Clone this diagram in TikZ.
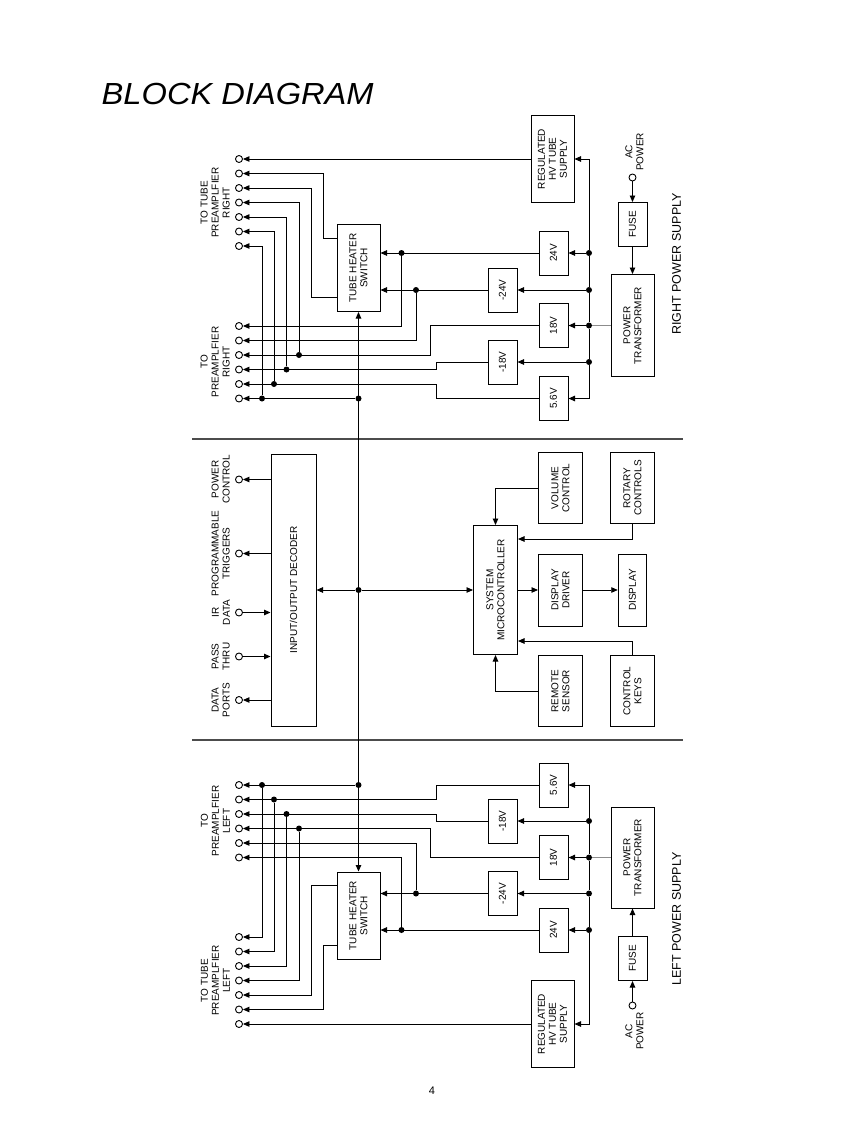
\documentclass[tikz,border=0pt]{standalone}
\usepackage{fontspec}
\setmainfont{Liberation Sans}
\usepackage{graphicx}
\usetikzlibrary{arrows.meta,calc}

\begin{document}
\begin{tikzpicture}[x=1pt, y=-1pt,
  every node/.style={font=\fontsize{10}{11}\selectfont},
  blk/.style={draw, line width=1pt, inner sep=0pt},
  reg/.style={blk, minimum width=29pt, minimum height=44pt},
  sw/.style={blk, minimum width=43pt, minimum height=87pt},
  ctl/.style={blk, minimum width=44pt, minimum height=71pt},
  vtxt/.style={rotate=90, align=center, inner sep=0pt},
  tlbl/.style={rotate=90, align=center, anchor=south, inner sep=0.5pt},
  term/.style={circle, draw, line width=0.9pt, inner sep=0pt, minimum size=7pt},
  dot/.style={circle, fill, inner sep=0pt, minimum size=6pt},
  wire/.style={line width=0.9pt},
  arr/.style={wire, -{Triangle[length=6.5pt,width=5.5pt]}},
  sep/.style={line width=1.2pt, color=black!70},
]
\fill[white] (0,0) rectangle (866,1122);
\useasboundingbox (0,0) rectangle (866,1122);

\node[anchor=base west, inner sep=0pt, font=\fontsize{30.5}{36}\selectfont\itshape]
  (title) at (101.5,104.3) {\scalebox{1.07}[1]{BLOCK DIAGRAM}};

% ---- right power supply (top) ----
\node[sw, label={[vtxt]center:REGULATED\\HV TUBE\\SUPPLY}] (hvR) at (552.5,159) {};
\node[reg, label={[vtxt]center:24V}]  (v24R)  at (553.5,253) {};
\node[reg, label={[vtxt]center:-24V}] (vm24R) at (502.5,290) {};
\node[reg, label={[vtxt]center:18V}]  (v18R)  at (553.5,325.5) {};
\node[reg, label={[vtxt]center:-18V}] (vm18R) at (502.5,362) {};
\node[reg, label={[vtxt]center:5.6V}] (v56R)  at (553.5,398.5) {};
\node[blk, minimum width=43pt, minimum height=102pt,
      label={[vtxt]center:POWER\\TRANSFORMER}] (trR) at (632.5,325.5) {};
\node[reg, label={[vtxt]center:FUSE}] (fuseR) at (632.5,224.5) {};
\node[term] (acR) at (632.5,177.5) {};
\node[vtxt, anchor=west] (acRlbl) at (634.5,171) {AC\\POWER};
\node[rotate=90, font=\fontsize{12.5}{14}\selectfont] (rpsLbl) at (676.5,264) {RIGHT POWER SUPPLY};
\node[sw, label={[vtxt]center:TUBE HEATER\\SWITCH}] (swR) at (358.5,268) {};

\node[term] (tR1) at (239,159) {};   \node[term] (tR2) at (239,173.5) {};
\node[term] (tR3) at (239,188) {};   \node[term] (tR4) at (239,202.5) {};
\node[term] (tR5) at (239,217) {};   \node[term] (tR6) at (239,231.5) {};
\node[term] (tR7) at (239,246) {};
\node[term] (pR1) at (239,326) {};   \node[term] (pR2) at (239,340.5) {};
\node[term] (pR3) at (239,355) {};   \node[term] (pR4) at (239,369.5) {};
\node[term] (pR5) at (239,384) {};   \node[term] (pR6) at (239,398.5) {};
\node[tlbl] (tRlbl) at (230.5,202.5) {TO TUBE\\PREAMPLFIER\\RIGHT};
\node[tlbl] (pRlbl) at (230.5,362) {TO\\PREAMPLFIER\\RIGHT};

\node[dot] (b24R) at (589,253) {};    \node[dot] (bm24R) at (589,290) {};
\node[dot] (b18R) at (589,325.5) {};  \node[dot] (bm18R) at (589,362) {};
\node[dot] (s24R) at (401.5,253) {};  \node[dot] (sm24R) at (416,290) {};
\node[dot] (dR4) at (299,355) {};     \node[dot] (dR5) at (286.5,369.5) {};
\node[dot] (dR6) at (274,384) {};     \node[dot] (dR7) at (262,398.5) {};
\node[dot] (cR) at (358.5,398.5) {};

% supply bus
\draw[wire] (b24R) -- (bm24R) -- (b18R) -- (bm18R);
\draw[arr] (b24R) |- (hvR.east);
\draw[arr] (bm18R) |- (v56R.east);
\draw[arr] (b24R) -- (v24R.east);
\draw[arr] (bm24R) -- (vm24R.east);
\draw[arr] (b18R) -- (v18R.east);
\draw[arr] (bm18R) -- (vm18R.east);
\draw[wire, black!45] (trR.west) -- (b18R);
\draw[arr] (acR) -- (fuseR.north);
\draw[arr] (fuseR.south) -- (trR.north);
% heater switch
\draw[arr] (v24R.west) -- (v24R.west -| swR.east);
\draw[arr] (vm24R.west) -- (vm24R.west -| swR.east);
% outputs
\draw[arr] (hvR.west) -- (tR1);
\draw[arr] ([yshift=-14.5pt]swR.north west) -- ++(-13,0) |- (tR2);
\draw[arr] ([yshift=14.5pt]swR.south west) -- ++(-25,0) |- (tR3);
\draw[arr] (dR4) |- (tR4);
\draw[arr] (dR5) |- (tR5);
\draw[arr] (dR6) |- (tR6);
\draw[arr] (dR7) |- (tR7);
\draw[arr] (s24R) |- (pR1);
\draw[arr] (sm24R) |- (pR2);
\draw[arr] (v18R.west) -- ++(-108.5,0) |- (pR3);
\draw[arr] (vm18R.west) -- ++(-51,0) |- (pR4);
\draw[arr] (v56R.west) -- ++(-102,0) |- (pR5);
\draw[arr] (cR) -- (pR6);

% ---- control section (middle) ----
\draw[sep] (192,439) -- (683,439);
\draw[sep] (192,740) -- (683,740);
\node[blk, minimum width=45pt, minimum height=272pt,
      label={[vtxt]center:INPUT/OUTPUT DECODER}] (iod) at (293.5,590) {};
\node[blk, minimum width=44pt, minimum height=129pt,
      label={[vtxt]center:SYSTEM\\MICROCONTROLLER}] (mcu) at (495.5,590) {};
\node[ctl, label={[vtxt]center:VOLUME\\CONTROL}] (vol) at (560.5,488) {};
\node[ctl, label={[vtxt]center:ROTARY\\CONTROLS}] (rot) at (632.5,488) {};
\node[ctl, minimum height=72pt, label={[vtxt]center:DISPLAY\\DRIVER}] (ddrv) at (560.5,590) {};
\node[blk, minimum width=28.5pt, minimum height=72pt,
      label={[vtxt]center:DISPLAY}] (disp) at (632.5,590) {};
\node[ctl, label={[vtxt]center:REMOTE\\SENSOR}] (rem) at (560.5,691) {};
\node[ctl, label={[vtxt]center:CONTROL\\KEYS}] (keys) at (632.5,691) {};
\node[dot] (cm) at (358.5,590) {};

\node[term] (pwrc) at (239,479.5) {};
\node[term] (trig) at (239,553.5) {};
\node[term] (irin) at (239,612.5) {};
\node[term] (pass) at (239,656.5) {};
\node[term] (dport) at (239,700) {};
\node[tlbl] (pwrcLbl) at (230.5,479.5) {POWER\\CONTROL};
\node[tlbl] (trigLbl) at (230.5,553.5) {PROGRAMMABLE\\TRIGGERS};
\node[tlbl] (irinLbl) at (230.5,612.5) {IR\\DATA};
\node[tlbl] (passLbl) at (230.5,656.5) {PASS\\THRU};
\node[tlbl] (dportLbl) at (230.5,700) {DATA\\PORTS};

\draw[arr] (iod.west |- pwrc) -- (pwrc);
\draw[arr] (iod.west |- trig) -- (trig);
\draw[arr] (irin) -- (iod.west |- irin);
\draw[arr] (pass) -- (iod.west |- pass);
\draw[arr] (iod.west |- dport) -- (dport);
\draw[arr] (cm) -- (iod.east);
\draw[arr] (cm) -- (mcu.west);
\draw[arr] (cm) -- (swR.south);
\draw[arr] (vol.west) -| (mcu.north);
\draw[arr] (rot.south) |- ([yshift=-14pt]mcu.north east);
\draw[arr] (keys.north) |- ([yshift=14pt]mcu.south east);
\draw[arr] (rem.west) -| (mcu.south);
\draw[arr] (mcu.east) -- (ddrv.west);
\draw[arr] (ddrv.east) -- (disp.west);

% ---- left power supply (bottom) ----
\node[sw, label={[vtxt]center:TUBE HEATER\\SWITCH}] (swL) at (358.5,915.5) {};
\node[reg, label={[vtxt]center:5.6V}] (v56L)  at (553.5,785) {};
\node[reg, label={[vtxt]center:-18V}] (vm18L) at (502.5,821) {};
\node[reg, label={[vtxt]center:18V}]  (v18L)  at (553.5,857.5) {};
\node[reg, label={[vtxt]center:-24V}] (vm24L) at (502.5,893.5) {};
\node[reg, label={[vtxt]center:24V}]  (v24L)  at (553.5,930) {};
\node[sw, label={[vtxt]center:REGULATED\\HV TUBE\\SUPPLY}] (hvL) at (552.5,1024) {};
\node[blk, minimum width=43pt, minimum height=101pt,
      label={[vtxt]center:POWER\\TRANSFORMER}] (trL) at (632.5,857.5) {};
\node[reg, label={[vtxt]center:FUSE}] (fuseL) at (632.5,958.5) {};
\node[term] (acL) at (632.5,1005.5) {};
\node[vtxt, anchor=east] (acLlbl) at (634.5,1012) {AC\\POWER};
\node[rotate=90, font=\fontsize{12.5}{14}\selectfont] (lpsLbl) at (676.5,919) {LEFT POWER SUPPLY};
\draw[arr] (cm) -- (swL.north);

\node[term] (pL1) at (239,785) {};   \node[term] (pL2) at (239,799.5) {};
\node[term] (pL3) at (239,814) {};   \node[term] (pL4) at (239,828.5) {};
\node[term] (pL5) at (239,843) {};   \node[term] (pL6) at (239,857.5) {};
\node[term] (tL1) at (239,937) {};   \node[term] (tL2) at (239,951.5) {};
\node[term] (tL3) at (239,966) {};   \node[term] (tL4) at (239,980.5) {};
\node[term] (tL5) at (239,995) {};   \node[term] (tL6) at (239,1009.5) {};
\node[term] (tL7) at (239,1024) {};
\node[tlbl] (pLlbl) at (230.5,821) {TO\\PREAMPLFIER\\LEFT};
\node[tlbl] (tLlbl) at (230.5,980.5) {TO TUBE\\PREAMPLFIER\\LEFT};

\node[dot] (bm18L) at (589,821) {};   \node[dot] (b18L) at (589,857.5) {};
\node[dot] (bm24L) at (589,893.5) {}; \node[dot] (b24L) at (589,930) {};
\node[dot] (sm24L) at (416,893.5) {}; \node[dot] (s24L) at (401.5,930) {};
\node[dot] (dL1) at (262,785) {};     \node[dot] (dL2) at (274,799.5) {};
\node[dot] (dL3) at (286.5,814) {};   \node[dot] (dL4) at (299,828.5) {};
\node[dot] (cL) at (358.5,785) {};

% supply bus
\draw[wire] (bm18L) -- (b18L) -- (bm24L) -- (b24L);
\draw[arr] (bm18L) |- (v56L.east);
\draw[arr] (b24L) |- (hvL.east);
\draw[arr] (bm18L) -- (vm18L.east);
\draw[arr] (b18L) -- (v18L.east);
\draw[arr] (bm24L) -- (vm24L.east);
\draw[arr] (b24L) -- (v24L.east);
\draw[wire, black!45] (trL.west) -- (b18L);
\draw[arr] (acL) -- (fuseL.south);
\draw[arr] (fuseL.north) -- (trL.south);
% heater switch
\draw[arr] (vm24L.west) -- (vm24L.west -| swL.east);
\draw[arr] (v24L.west) -- (v24L.west -| swL.east);
% outputs
\draw[arr] (cL) -- (pL1);
\draw[arr] (v56L.west) -- ++(-102,0) |- (pL2);
\draw[arr] (vm18L.west) -- ++(-51,0) |- (pL3);
\draw[arr] (v18L.west) -- ++(-108.5,0) |- (pL4);
\draw[arr] (sm24L) |- (pL5);
\draw[arr] (s24L) |- (pL6);
\draw[arr] (dL1) |- (tL1);
\draw[arr] (dL2) |- (tL2);
\draw[arr] (dL3) |- (tL3);
\draw[arr] (dL4) |- (tL4);
\draw[arr] ([yshift=-13.5pt]swL.north west) -- ++(-25,0) |- (tL5);
\draw[arr] ([yshift=14.5pt]swL.south west) -- ++(-13,0) |- (tL6);
\draw[arr] (hvL.west) -- (tL7);

\node[font=\fontsize{11}{13}\selectfont] (pgno) at (432,1091) {4};
\end{tikzpicture}
\end{document}
